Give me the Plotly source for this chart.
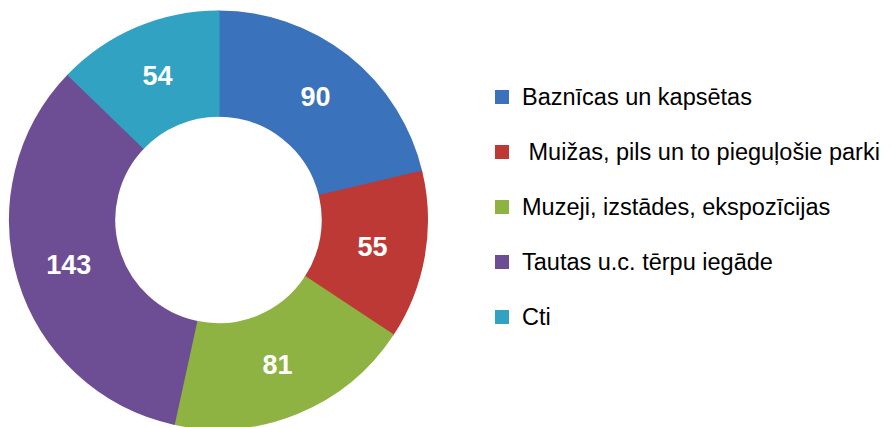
import plotly.graph_objects as go

categories = [
    "Baznīcas un kapsētas",
    " Muižas, pils un to pieguļošie parki",
    "Muzeji, izstādes, ekspozīcijas",
    "Tautas u.c. tērpu iegāde",
    "Cti",
]
values = [90, 55, 81, 143, 54]
colors = ["#3a72bb", "#bd3935", "#8fb342", "#6d4e94", "#31a2c2"]

legend_labels = ['<span style="font-size:23.5px">%s</span><br> ' % c for c in categories]

# page body has an 8px margin; figure coordinates below are offset by it
W, H = 891, 427
OFF = 8

cx, cy, r = 218.5 - OFF, 220 - OFF, 208.5

fig = go.Figure(
    go.Pie(
        labels=legend_labels,
        values=values,
        sort=False,
        direction="clockwise",
        rotation=0,
        hole=0.5,
        marker=dict(colors=colors, line=dict(width=2, color=colors)),
        textinfo="value",
        textposition="inside",
        insidetextorientation="horizontal",
        insidetextfont=dict(
            family="Liberation Sans, Arial",
            size=27,
            color="white",
            weight="bold",
        ),
        domain=dict(
            x=[(cx - r) / W, (cx + r) / W],
            y=[max(0.0, 1 - (cy + r) / H), 1 - (cy - r) / H],
        ),
        hoverinfo="skip",
    )
)

fig.update_layout(
    width=W,
    height=H,
    margin=dict(l=0, r=0, t=0, b=0),
    paper_bgcolor="white",
    plot_bgcolor="white",
    showlegend=True,
    legend=dict(
        x=(482 - OFF) / W,
        y=1 - (77.5 - OFF) / H,
        xanchor="left",
        yanchor="top",
        valign="top",
        font=dict(family="Liberation Sans, Arial", size=20, color="#000000"),
        bgcolor="rgba(0,0,0,0)",
    ),
)

fig.write_html("out.html")
